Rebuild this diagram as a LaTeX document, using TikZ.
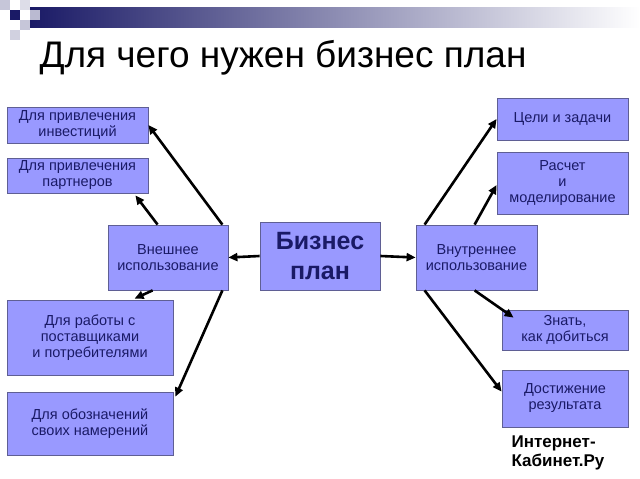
\documentclass[tikz,border=0pt]{standalone}
\usetikzlibrary{arrows.meta,calc}
\usepackage{fontspec}
\setmainfont{Liberation Sans}
\definecolor{boxblue}{HTML}{9999FF}
\definecolor{navy}{HTML}{1A1A66}

\begin{document}
\begin{tikzpicture}[x=1pt,y=-1pt,>={Triangle[length=9pt,width=8pt]},
	box/.style={draw=navy!70,fill=boxblue,line width=0.8pt,align=center,
		font=\fontsize{14.5}{16}\selectfont,text=navy,inner sep=0pt},
	link/.style={->,line width=2.6pt}]
	\useasboundingbox (0,0) rectangle (640,479);
	% header
	\shade[left color=navy,right color=white] (30,7) rectangle (640,27);
	\foreach \x/\y/\c in {0/0/navy!25,10/10/navy,20/20/navy!25,20/0/navy!15,30/10/navy!30,10/30/navy!20}
		\fill[\c] (\x,\y) rectangle +(10,10);
	\node[anchor=west,font=\fontsize{37}{40}\selectfont] (title) at (36,58) {Для чего нужен бизнес план};
	% boxes
	\node[box,minimum width=141,minimum height=36] (inv) at (77.5,125) {Для привлечения\\инвестиций};
	\node[box,minimum width=141,minimum height=35] (part) at (77.5,175.5) {Для привлечения\\партнеров};
	\node[box,minimum width=120,minimum height=65] (ext) at (168,257.5) {Внешнее\\использование};
	\node[box,minimum width=120,minimum height=68,font=\bfseries\fontsize{25}{30}\selectfont] (biz) at (320,256) {Бизнес\\план};
	\node[box,minimum width=121,minimum height=65] (int) at (476.5,257.5) {Внутреннее\\использование};
	\node[box,minimum width=166,minimum height=75] (supply) at (90,337.5) {Для работы с\\поставщиками\\и потребителями};
	\node[box,minimum width=166,minimum height=63] (intent) at (90,423.5) {Для обозначений\\своих намерений};
	\node[box,minimum width=131,minimum height=42] (goals) at (562.5,119) {Цели и задачи};
	\node[box,minimum width=131,minimum height=62] (calc) at (562.5,183) {Расчет\\и\\моделирование};
	\node[box,minimum width=126,minimum height=40] (know) at (565,330) {Знать,\\ как добиться};
	\node[box,minimum width=126,minimum height=57] (achieve) at (565,398.5) {Достижение\\результата};
	% arrows
	\draw[link] ($(ext.north east)+(-6,0)$) -- (inv.east);
	\draw[link] ($(ext.north west)+(50,0)$) -- ($(part.south east)+(-13,2)$);
	\draw[link] (biz.west) -- (ext.east);
	\draw[link] ($(ext.south west)+(45,0)$) -- ($(supply.north west)+(128,-1)$);
	\draw[link] ($(ext.south east)+(-6,0)$) -- ($(intent.north east)+(2,5)$);
	\draw[link] (biz.east) -- (int.west);
	\draw[link] ($(int.north west)+(9,0)$) -- (goals.west);
	\draw[link] ($(int.north west)+(59,0)$) -- ($(calc.west)+(0,2)$);
	\draw[link] ($(int.south west)+(59,0)$) -- ($(know.north west)+(12,8)$);
	\draw[link] ($(int.south west)+(9,0)$) -- ($(achieve.north west)+(0,22)$);
	% watermark
	\node[anchor=north west,align=left,font=\bfseries\fontsize{17}{19}\selectfont,text=black] (mark) at (508,432) {Интернет-\\Кабинет.Ру};
\end{tikzpicture}
\end{document}
